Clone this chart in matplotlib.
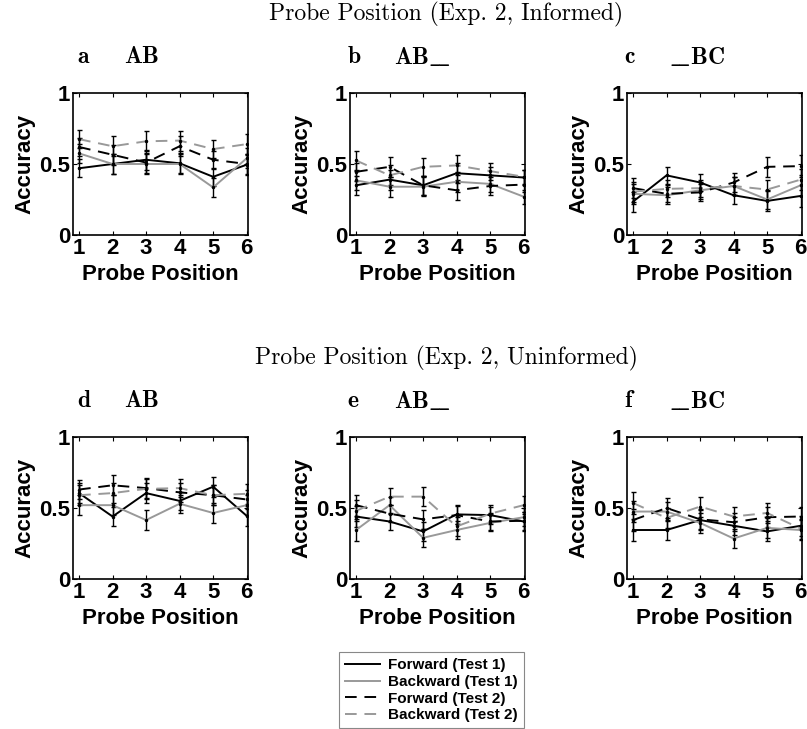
import matplotlib
matplotlib.use('Agg')
import matplotlib.pyplot as plt
import numpy as np

plt.rcParams['mathtext.fontset'] = 'cm'
plt.rcParams['font.family'] = ['Liberation Sans', 'DejaVu Sans']

positions = [1, 2, 3, 4, 5, 6]
series_names = ['Forward (Test 1)', 'Backward (Test 1)', 'Forward (Test 2)', 'Backward (Test 2)']
panel_letters = ['a', 'b', 'c', 'd', 'e', 'f']
panel_names = [r'$\mathbf{AB}$', r'$\mathbf{AB\_\!\_}$', r'$\mathbf{\_\!\_BC}$',
               r'$\mathbf{AB}$', r'$\mathbf{AB\_\!\_}$', r'$\mathbf{\_\!\_BC}$']
row_titles = ['Probe Position (Exp. 2, Informed)',
              'Probe Position (Exp. 2, Uninformed)']

# mean accuracy, order: fwd test1, bwd test1, fwd test2, bwd test2
acc_a = [[0.47, 0.50, 0.53, 0.505, 0.41, 0.495],
         [0.575, 0.50, 0.50, 0.50, 0.335, 0.54],
         [0.62, 0.565, 0.51, 0.625, 0.53, 0.50],
         [0.675, 0.625, 0.66, 0.665, 0.605, 0.64]]
acc_b = [[0.35, 0.39, 0.35, 0.435, 0.42, 0.405],
         [0.385, 0.34, 0.34, 0.375, 0.36, 0.27],
         [0.445, 0.48, 0.35, 0.315, 0.345, 0.355],
         [0.525, 0.42, 0.48, 0.49, 0.45, 0.41]]
acc_c = [[0.235, 0.42, 0.37, 0.28, 0.24, 0.275],
         [0.29, 0.28, 0.315, 0.345, 0.25, 0.35],
         [0.33, 0.29, 0.30, 0.37, 0.48, 0.485],
         [0.305, 0.325, 0.33, 0.345, 0.32, 0.39]]
acc_d = [[0.605, 0.44, 0.605, 0.55, 0.65, 0.445],
         [0.52, 0.52, 0.415, 0.53, 0.465, 0.52],
         [0.63, 0.66, 0.64, 0.61, 0.59, 0.56],
         [0.59, 0.605, 0.635, 0.64, 0.59, 0.60]]
acc_e = [[0.44, 0.405, 0.335, 0.455, 0.45, 0.405],
         [0.345, 0.52, 0.29, 0.345, 0.395, 0.435],
         [0.52, 0.46, 0.42, 0.45, 0.405, 0.41],
         [0.48, 0.58, 0.58, 0.37, 0.46, 0.52]]
acc_f = [[0.345, 0.345, 0.415, 0.375, 0.335, 0.375],
         [0.475, 0.475, 0.395, 0.285, 0.36, 0.345],
         [0.415, 0.50, 0.42, 0.40, 0.435, 0.44],
         [0.535, 0.43, 0.51, 0.44, 0.465, 0.355]]

# standard errors (roughly the same for every point in a panel)
err_a = [0.065, 0.07, 0.07, 0.07, 0.065, 0.07]
err_b = [0.065, 0.07, 0.065, 0.07, 0.06, 0.05]
err_c = [0.07, 0.06, 0.06, 0.065, 0.07, 0.075]
err_d = [0.07, 0.07, 0.07, 0.065, 0.07, 0.07]
err_e = [0.075, 0.06, 0.065, 0.065, 0.06, 0.065]
err_f = [0.075, 0.07, 0.07, 0.065, 0.07, 0.07]

all_acc = [acc_a, acc_b, acc_c, acc_d, acc_e, acc_f]
all_err = [err_a, err_b, err_c, err_d, err_e, err_f]

colors = ['black', '#999999', 'black', '#999999']
styles = ['-', '-', (0, (6, 4)), (0, (6, 4))]

fig = plt.figure(figsize=(8.07, 7.29), dpi=100)

lefts = [73, 350, 627]
tops = [93, 437]
w, h = 175, 142
W, H = 807.0, 729.0

handles = []
for i in range(6):
    r, c = divmod(i, 3)
    ax = fig.add_axes([lefts[c] / W, 1 - (tops[r] + h) / H, w / W, h / H])
    for s in range(4):
        ax.errorbar(positions, all_acc[i][s], yerr=all_err[i], color='k', elinewidth=1.0,
                    capsize=1.8, capthick=1, fmt='none', zorder=2)
        ln, = ax.plot(positions, all_acc[i][s], color=colors[s], linestyle=styles[s],
                      lw=1.4, zorder=3)
        ax.plot(positions, all_acc[i][s], '.', color='k', ms=3, zorder=4)
        if i == 0:
            handles.append(ln)
    ax.set_xlim(0.82, 6.04)
    ax.set_ylim(0, 1)
    ax.set_xticks(positions)
    ax.set_yticks([0, 0.5, 1])
    ax.set_yticklabels(['0', '0.5', '1'])
    ax.tick_params(direction='in', top=True, right=True, length=3, width=0.8,
                   labelsize=16, pad=2)
    for lab in ax.get_xticklabels() + ax.get_yticklabels():
        lab.set_fontweight('bold')
    ax.set_xlabel('Probe Position', fontsize=16, fontweight='bold', labelpad=4)
    ax.set_ylabel('Accuracy', fontsize=16, fontweight='bold', labelpad=3)
    for sp in ax.spines.values():
        sp.set_linewidth(1.2)

    lx = [77, 347, 624][c]
    nx = [124, 394, 669][c]
    ty = [57, 401][r]
    fig.text(lx / W, 1 - ty / H, r'$\mathbf{%s}$' % panel_letters[i], fontsize=17,
             ha='left', va='center')
    fig.text(nx / W, 1 - ty / H, panel_names[i], fontsize=17, ha='left', va='center')

fig.text(446 / W, 1 - 14 / H, row_titles[0], fontsize=17, family='cmr10',
         ha='center', va='center')
fig.text(446 / W, 1 - 358 / H, row_titles[1], fontsize=17, family='cmr10',
         ha='center', va='center')

leg = fig.legend(handles, series_names, loc='upper left',
                 bbox_to_anchor=(339 / W, 1 - 652 / H),
                 prop={'weight': 'bold', 'size': 11}, frameon=True, fancybox=False,
                 edgecolor='#888888', framealpha=1, handlelength=2.3,
                 borderpad=0.4, labelspacing=0.18, handletextpad=0.5,
                 borderaxespad=0)
leg.get_frame().set_linewidth(0.8)

fig.savefig('out.png', dpi=100)
